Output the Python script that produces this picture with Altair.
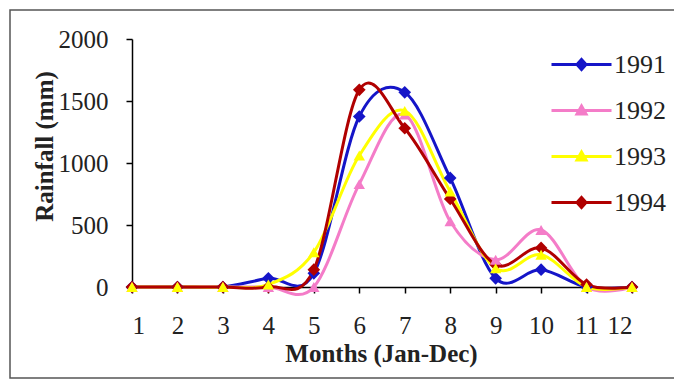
import altair as alt
import pandas as pd

months = list(range(1, 13))
years = ["1991", "1992", "1993", "1994"]
rain_1991 = [0, 0, 0, 70, 110, 1375, 1570, 880, 70, 140, 0, 0]
rain_1992 = [0, 0, 0, 0, 0, 830, 1390, 530, 220, 460, 0, 0]
rain_1993 = [0, 0, 0, 20, 280, 1060, 1420, 770, 150, 260, 0, 0]
rain_1994 = [0, 0, 0, 0, 140, 1590, 1280, 710, 180, 315, 20, 0]
y_ticks = [0, 500, 1000, 1500, 2000]

colors = ["#1515C8", "#F47CC8", "#FFFF00", "#B00000"]
line_widths = [3, 3, 4.5, 3]
legend_paths = [
    "M-1,0L1,0M0,-0.17L0.15,0L0,0.17L-0.15,0Z",
    "M-1,0L1,0M0,-0.15L0.15,0.12L-0.15,0.12Z",
    "M-1,0L1,0M0,-0.15L0.15,0.12L-0.15,0.12Z",
    "M-1,0L1,0M0,-0.17L0.15,0L0,0.17L-0.15,0Z",
]

rows = []
for yr, vals in zip(years, [rain_1991, rain_1992, rain_1993, rain_1994]):
    for m, v in zip(months, vals):
        rows.append({"month": m, "year": yr, "rain": v})
df = pd.DataFrame(rows)

FONT = "Liberation Serif"

x_enc = alt.X(
    "month:Q",
    scale=alt.Scale(domain=[1, 12], nice=False, zero=False),
    axis=alt.Axis(
        values=months, format="d", title="Months (Jan-Dec)", grid=False,
        labelFont=FONT, labelFontSize=25, labelColor="#222222",
        labelPadding=20, tickSize=6, tickColor="#000000", tickWidth=1.5,
        domainColor="#000000", domainWidth=1.5,
        titleFont=FONT, titleFontSize=25, titleFontWeight="bold", titleColor="#222222",
        titleX=249, titleY=66, titleBaseline="middle", titleAlign="center",
    ),
)
y_enc = alt.Y(
    "rain:Q",
    scale=alt.Scale(domain=[0, 2000], nice=False),
    axis=alt.Axis(
        values=y_ticks, format="d", title="Rainfall (mm)", grid=False,
        labelFont=FONT, labelFontSize=25, labelColor="#222222",
        labelPadding=18, tickSize=6, tickColor="#000000", tickWidth=1.5,
        domainColor="#000000", domainWidth=1.5,
        titleFont=FONT, titleFontSize=25, titleFontWeight="bold", titleColor="#222222",
        titleAngle=270, titleX=-88, titleY=107, titleBaseline="middle", titleAlign="center",
    ),
)

color_scale = alt.Scale(domain=years, range=colors)

yrs_js = "[" + ",".join("'%s'" % y for y in years) + "]"
paths_js = "[" + ",".join("'%s'" % p for p in legend_paths) + "]"
cols_js = "[" + ",".join("'%s'" % c for c in colors) + "]"
idx = "indexof(%s, datum.value)" % yrs_js

leg = alt.Legend(
    title=None, orient="none", legendX=418, legendY=-6,
    labelFont=FONT, labelFontSize=26, labelColor="#222222", labelOffset=1,
    symbolSize=3600, symbolStrokeWidth=3, symbolOpacity=1, rowPadding=1,
    symbolType=alt.ExprRef(expr="%s[%s]" % (paths_js, idx)),
    symbolFillColor=alt.ExprRef(expr="%s[%s]" % (cols_js, idx)),
    symbolStrokeColor=alt.ExprRef(expr="%s[%s]" % (cols_js, idx)),
)

lines = alt.Chart(df).mark_line(interpolate="cardinal").encode(
    x=x_enc,
    y=y_enc,
    color=alt.Color("year:N", scale=color_scale, legend=leg),
    strokeWidth=alt.StrokeWidth("year:N", scale=alt.Scale(domain=years, range=line_widths), legend=None),
)

diamonds = alt.Chart(df).transform_filter(
    alt.FieldOneOfPredicate(field="year", oneOf=["1991", "1994"])
).mark_point(filled=True, opacity=1, shape="diamond", size=160).encode(
    x="month:Q",
    y="rain:Q",
    color=alt.Color("year:N", scale=color_scale, legend=leg),
)

triangles = alt.Chart(df).transform_filter(
    alt.FieldOneOfPredicate(field="year", oneOf=["1992", "1993"])
).mark_point(filled=True, opacity=1, shape="triangle-up", size=130).encode(
    x="month:Q",
    y="rain:Q",
    color=alt.Color("year:N", scale=color_scale, legend=leg),
)

border = alt.Chart(pd.DataFrame({"a": [0]})).mark_rect(
    fill=None, fillOpacity=0, stroke="#555555", strokeWidth=1.5
).encode(
    x=alt.value(-122), x2=alt.value(545), y=alt.value(-29), y2=alt.value(339)
)

chart = alt.layer(border, lines, diamonds, triangles).properties(
    width=500,
    height=248,
    padding={"left": 124, "top": 31, "right": 42, "bottom": 92},
    autosize=alt.AutoSizeParams(type="none"),
    background="white",
).configure(font=FONT).configure_view(stroke=None).configure_legend(
    labelFont=FONT, labelFontSize=26, labelColor="#222222"
)

chart.save("out.html", embed_options={"renderer": "svg", "actions": False})
